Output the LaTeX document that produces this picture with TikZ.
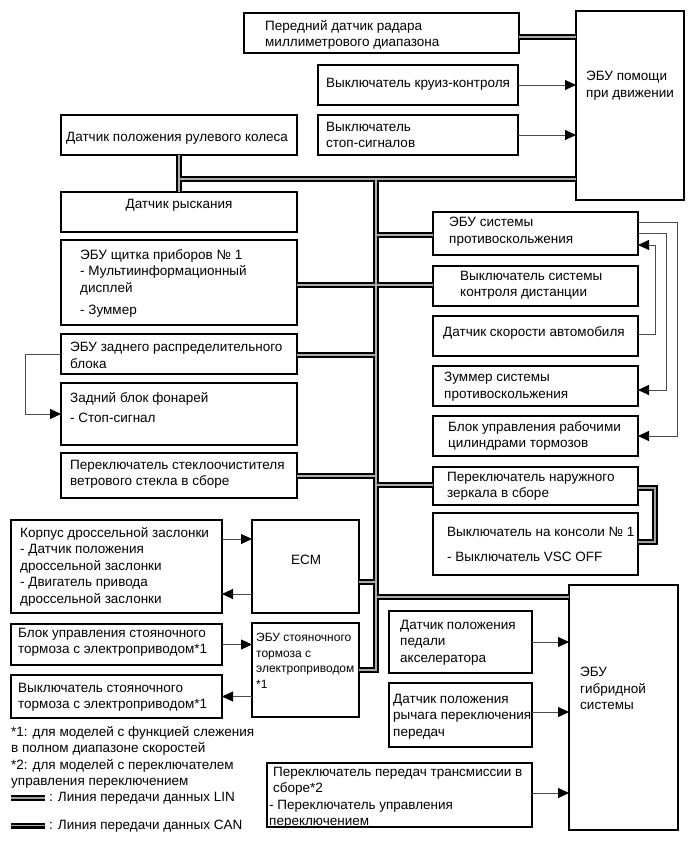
\documentclass[tikz,border=0pt]{standalone}
\usepackage{fontspec}
\setmainfont{Liberation Sans}
\usetikzlibrary{arrows.meta}

\begin{document}
\begin{tikzpicture}[x=1pt,y=-1pt,
  box/.style={draw=black, line width=1.4pt, rectangle, anchor=north west, inner sep=0pt, outer sep=0pt},
  plain/.style={align=left, inner sep=0pt, font=\fontsize{13.5}{16.5}\selectfont, execute at begin node=\strut},
  txt/.style={plain, anchor=north west, yshift=-3pt},
  small/.style={txt, font=\fontsize{12}{15.7}\selectfont},
  lgd/.style={plain, anchor=west},
  can/.style={draw=black, line width=1.4pt, double=gray!65, double distance=2.8pt},
  lin/.style={draw=black, line width=1.9pt, double=gray!75, double distance=1.4pt},
  arr/.style={draw=black!70, line width=0.9pt, -{Triangle[length=11pt,width=10pt,fill=black,color=black]}}]
\useasboundingbox (0,0) rectangle (689,853);

% boxes
\node[box, minimum width=275pt, minimum height=40pt]  (radar)    at (244,13)  {};
\node[box, minimum width=108pt, minimum height=189pt] (acc)      at (576,11)  {};
\node[box, minimum width=200pt, minimum height=40pt]  (cruise)   at (318,65)  {};
\node[box, minimum width=200pt, minimum height=40pt]  (stop)     at (318,115) {};
\node[box, minimum width=236pt, minimum height=40pt]  (steer)    at (61,115)  {};
\node[box, minimum width=236pt, minimum height=40pt]  (yaw)      at (61,192)  {};
\node[box, minimum width=236pt, minimum height=85pt]  (meter)    at (61,240)  {};
\node[box, minimum width=236pt, minimum height=40pt]  (rear)     at (61,334)  {};
\node[box, minimum width=236pt, minimum height=62pt]  (lamp)     at (61,383)  {};
\node[box, minimum width=236pt, minimum height=45pt]  (wiper)    at (61,453)  {};
\node[box, minimum width=211pt, minimum height=93pt]  (throttle) at (11,520)  {};
\node[box, minimum width=107pt, minimum height=93pt]  (ecm)      at (252,520) {};
\node[box, minimum width=211pt, minimum height=41pt]  (pkbctl)   at (11,624)  {};
\node[box, minimum width=107pt, minimum height=94pt]  (epb)      at (252,623) {};
\node[box, minimum width=211pt, minimum height=43pt]  (pkbsw)    at (11,675)  {};
\node[box, minimum width=205pt, minimum height=43pt]  (vsc)      at (433,212) {};
\node[box, minimum width=205pt, minimum height=40pt]  (dist)     at (433,266) {};
\node[box, minimum width=205pt, minimum height=40pt]  (speed)    at (433,316) {};
\node[box, minimum width=205pt, minimum height=40pt]  (buzzer)   at (433,366) {};
\node[box, minimum width=205pt, minimum height=40pt]  (brake)    at (433,416) {};
\node[box, minimum width=205pt, minimum height=38pt]  (mirror)   at (433,467) {};
\node[box, minimum width=205pt, minimum height=62pt]  (console)  at (433,513) {};
\node[box, minimum width=109pt, minimum height=245pt] (hybrid)   at (569,585) {};
\node[box, minimum width=143pt, minimum height=62pt]  (accel)    at (389,611) {};
\node[box, minimum width=143pt, minimum height=64pt]  (lever)    at (389,683) {};
\node[box, minimum width=265pt, minimum height=64pt]  (selector) at (267,763) {};

% texts
\node[txt] (radar-t)    at (265,17)  {Передний датчик радара\\миллиметрового диапазона};
\node[txt] (acc-t)      at (586,68)  {ЭБУ помощи\\при движении};
\node[txt] (cruise-t)   at (326,73)  {Выключатель круиз-контроля};
\node[txt] (stop-t)     at (326,119) {Выключатель\\стоп-сигналов};
\node[txt] (steer-t)    at (66,127)  {Датчик положения рулевого колеса};
\node[txt, anchor=north] (yaw-t) at (179,194) {Датчик рыскания};
\node[txt] (meter-t)    at (80,246)  {ЭБУ щитка приборов № 1\\- Мультиинформационный\\дисплей\\[6pt]- Зуммер};
\node[txt] (rear-t)     at (70,339)  {ЭБУ заднего распределительного\\блока};
\node[txt] (lamp-t)     at (70,389)  {Задний блок фонарей\\[4pt]- Стоп-сигнал};
\node[txt] (wiper-t)    at (70,457)  {Переключатель стеклоочистителя\\ветрового стекла в сборе};
\node[txt] (throttle-t) at (20,524)  {Корпус дроссельной заслонки\\- Датчик положения\\дроссельной заслонки\\- Двигатель привода\\дроссельной заслонки};
\node[txt, anchor=north] (ecm-t) at (306,550) {ECM};
\node[txt] (pkbctl-t)   at (18,625)  {Блок управления стояночного\\тормоза с электроприводом*1};
\node[small] (epb-t)    at (256,630) {ЭБУ стояночного\\тормоза с\\электроприводом\\*1};
\node[txt] (pkbsw-t)    at (18,680)  {Выключатель стояночного\\тормоза с электроприводом*1};
\node[txt] (vsc-t)      at (449,214) {ЭБУ системы\\противоскольжения};
\node[txt] (dist-t)     at (460,268) {Выключатель системы\\контроля дистанции};
\node[txt] (speed-t)    at (443,322) {Датчик скорости автомобиля};
\node[txt] (buzzer-t)   at (444,369) {Зуммер системы\\противоскольжения};
\node[txt] (brake-t)    at (448,418) {Блок управления рабочими\\цилиндрами тормозов};
\node[txt] (mirror-t)   at (447,469) {Переключатель наружного\\зеркала в сборе};
\node[txt] (console-t)  at (447,524) {Выключатель на консоли № 1\\[9pt]- Выключатель VSC OFF};
\node[txt] (hybrid-t)   at (580,664) {ЭБУ\\гибридной\\системы};
\node[txt] (accel-t)    at (400,617) {Датчик положения\\педали\\акселератора};
\node[txt] (lever-t)    at (393,691) {Датчик положения\\рычага переключения\\передач};
\node[txt] (selector-t) at (269,764) {\hspace*{4pt}Переключатель передач трансмиссии в\\\hspace*{4pt}сборе*2\\- Переключатель управления\\переключением};
\node[txt] (notes-t)    at (11,723)  {*1: для моделей с функцией слежения\\в полном диапазоне скоростей\\*2: для моделей с переключателем\\управления переключением};

% bus points on the trunk
\coordinate (t0) at (376,179);
\coordinate (t1) at (376,235);
\coordinate (t2) at (376,285);
\coordinate (t3) at (376,355);
\coordinate (t4) at (376,476);
\coordinate (t5) at (376,485);
\coordinate (t6) at (376,582);
\coordinate (t7) at (376,597);
\coordinate (t8) at (376,670);

% CAN
\draw[can] ([yshift=-24pt]radar.north east) -- ([yshift=-26pt]acc.north west)
  (steer.south) -- (yaw.north)
  (steer.south |- t0) -- (acc.west |- t0)
  (t0) -- (t8) -- (epb.east |- t8)
  (t1) -- (vsc.west |- t1)
  (meter.east |- t2) -- (dist.west |- t2)
  (rear.east |- t3) -- (t3)
  (wiper.east |- t4) -- (t4)
  (t5) -- (mirror.west |- t5)
  (ecm.east |- t6) -- (t6)
  (t7) -- (hybrid.west |- t7);

% LIN
\draw[lin] ([yshift=-21pt]mirror.north east) -- ++(17,0) |- ([yshift=-29pt]console.north east);

% signals
\draw[arr] (cruise.east) -- (cruise.east -| acc.west);
\draw[arr] (stop.east) -- (stop.east -| acc.west);
\draw[arr] (rear.west) -- ++(-36,0) |- (lamp.west);
\draw[arr] ([yshift=-19pt]throttle.north east) -- ([yshift=-19pt]ecm.north west);
\draw[arr] ([yshift=19pt]ecm.south west) -- ([yshift=19pt]throttle.south east);
\draw[arr] (pkbctl.east) -- (pkbctl.east -| epb.west);
\draw[arr] (pkbsw.east -| epb.west) -- (pkbsw.east);
\draw[arr] ([yshift=-10pt]vsc.north east) -- ++(39,0) |- (brake.east);
\draw[arr] ([yshift=-21pt]vsc.north east) -- ++(28,0) |- ([yshift=-4pt]buzzer.east);
\draw[arr] ([yshift=-18pt]speed.north east) -- ++(17,0) |- ([yshift=-33pt]vsc.north east);
\draw[arr] (accel.east) -- (accel.east -| hybrid.west);
\draw[arr] ([yshift=3pt]lever.east) -- ([yshift=3pt]lever.east -| hybrid.west);
\draw[arr] ([yshift=2pt]selector.east) -- ([yshift=2pt]selector.east -| hybrid.west);

% legend
\coordinate (lin-a) at (11,798);
\coordinate (lin-b) at (45,798);
\coordinate (can-a) at (11,826);
\coordinate (can-b) at (45,826);
\draw[lin] (lin-a) -- (lin-b);
\draw[can] (can-a) -- (can-b);
\draw[black, line width=1pt] (can-a) -- (can-b);
\node[lgd] (lin-t) at (49,798) {: Линия передачи данных LIN};
\node[lgd] (can-t) at (49,826) {: Линия передачи данных CAN};
\end{tikzpicture}
\end{document}
